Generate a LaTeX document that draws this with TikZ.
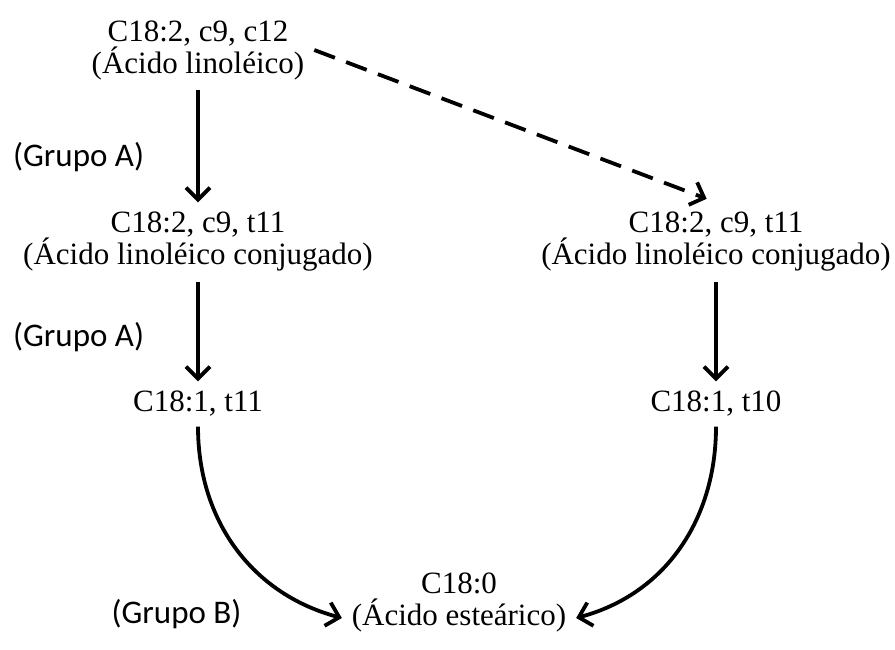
\documentclass[tikz,border=0pt]{standalone}
\usepackage{fontspec}
\setmainfont{Liberation Serif}
\newfontfamily\grupofont{Carlito}
\usetikzlibrary{positioning,arrows.meta}

\begin{document}
\begin{tikzpicture}[
  acid/.style = {align=center, inner sep=1pt, outer sep=4pt, font=\fontsize{15.5}{16}\selectfont, node distance = 96pt},
  grp/.style = {font=\grupofont\fontsize{16.5}{18}\selectfont, inner sep=0pt},
  conv/.style = {-{Straight Barb[length=6pt,width=12pt]}, line width=1.9pt},
  conv_alt/.style = {conv, dash pattern=on 11pt off 6pt}
  ]

  \useasboundingbox (0,0) rectangle (447.5pt,-324.5pt);

  \node[acid] (linoleic) at (99pt,-25pt) {C18:2, c9, c12\\(Ácido linoléico)};
  \node[acid, below of = linoleic] (cla_a) {C18:2, c9, t11\\(Ácido linoléico conjugado)};
  \node[acid, right of = cla_a, node distance = 259pt] (cla_b) {C18:2, c9, t11\\(Ácido linoléico conjugado)};
  \node[acid, below of = cla_a, node distance = 81pt] (vaccenic) {C18:1, t11};
  \node[acid, below of = cla_b, node distance = 81pt] (trans10) {C18:1, t10};
  \node[acid] (stearic) at (229.5pt,-301pt) {C18:0\\(Ácido esteárico)};

  \draw[conv] (linoleic) -- node[pos=.6, left=26pt, grp] (grupo_a1) {(Grupo A)} (cla_a);
  \draw[conv_alt, shorten >=5pt] (linoleic.east) -- (cla_b.north);
  \draw[conv] (cla_a) -- node[pos=.56, left=26pt, grp] (grupo_a2) {(Grupo A)} (vaccenic);
  \draw[conv] (cla_b) -- (trans10);

  \draw[conv] (vaccenic) to[out=270, in=165] ([yshift=-8pt]stearic.west);
  \draw[conv] (trans10) to[out=270, in=15] ([yshift=-8pt]stearic.east);
  \node[grp, left=50pt of stearic.west, yshift=-6pt] (grupo_b) {(Grupo B)};
\end{tikzpicture}
\end{document}
